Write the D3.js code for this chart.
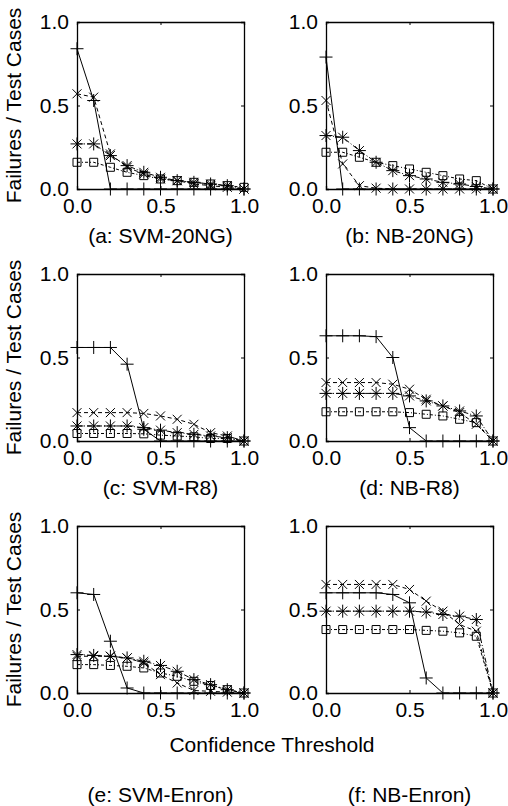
<!DOCTYPE html>
<html>
<head>
<meta charset="utf-8">
<title>Failures / Test Cases</title>
<script src="https://d3js.org/d3.v7.min.js"></script>
<style>
  body { margin: 0; background: #fff; }
  text { font-family: 'Liberation Sans', Arial, sans-serif; font-size: 21px; fill: #000; }
</style>
</head>
<body>
<div id="chart"></div>
<script>
/* global d3 */

const thresholds = [0, 0.1, 0.2, 0.3, 0.4, 0.5, 0.6, 0.7, 0.8, 0.9, 1.0];
const axisTicks = [0, 0.5, 1.0];

// (a) SVM-20NG
const svm20ngPlus  = [0.84, 0.53, 0, 0, 0, 0, 0, 0, 0, 0, 0];
const svm20ngCross = [0.57, 0.55, 0.21, 0.13, 0.09, 0.06, 0.05, 0.03, 0.02, 0.01, 0];
const svm20ngStar  = [0.27, 0.27, 0.2, 0.14, 0.1, 0.07, 0.05, 0.04, 0.03, 0.02, 0];
const svm20ngBox   = [0.16, 0.16, 0.13, 0.1, 0.08, 0.06, 0.05, 0.04, 0.03, 0.02, 0.01];
// (b) NB-20NG
const nb20ngPlus  = [0.79, 0, 0, 0, 0, 0, 0, 0, 0, 0, 0];
const nb20ngCross = [0.53, 0.15, 0.02, 0.005, 0, 0, 0, 0, 0, 0, 0];
const nb20ngStar  = [0.32, 0.31, 0.23, 0.16, 0.11, 0.08, 0.06, 0.04, 0.03, 0.015, 0];
const nb20ngBox   = [0.22, 0.22, 0.19, 0.16, 0.14, 0.12, 0.1, 0.08, 0.06, 0.05, 0];
// (c) SVM-R8
const svmR8Plus  = [0.56, 0.56, 0.56, 0.46, 0.07, 0, 0, 0, 0, 0, 0];
const svmR8Cross = [0.17, 0.17, 0.17, 0.17, 0.165, 0.15, 0.13, 0.1, 0.05, 0.03, 0];
const svmR8Star  = [0.09, 0.09, 0.09, 0.09, 0.08, 0.065, 0.05, 0.04, 0.03, 0.02, 0];
const svmR8Box   = [0.045, 0.045, 0.045, 0.045, 0.043, 0.035, 0.03, 0.025, 0.015, 0.015, 0];
// (d) NB-R8
const nbR8Plus  = [0.63, 0.63, 0.63, 0.625, 0.5, 0.08, 0, 0, 0, 0, 0];
const nbR8Cross = [0.35, 0.35, 0.35, 0.35, 0.34, 0.31, 0.25, 0.21, 0.17, 0.1, 0];
const nbR8Star  = [0.285, 0.285, 0.285, 0.285, 0.285, 0.27, 0.24, 0.21, 0.18, 0.15, 0];
const nbR8Box   = [0.175, 0.175, 0.175, 0.175, 0.175, 0.17, 0.16, 0.15, 0.13, 0.11, 0];
// (e) SVM-Enron
const svmEnronPlus  = [0.6, 0.59, 0.31, 0.03, 0, 0, 0, 0, 0, 0, 0];
const svmEnronCross = [0.22, 0.22, 0.22, 0.21, 0.18, 0.11, 0.06, 0.015, 0.01, 0.005, 0];
const svmEnronStar  = [0.23, 0.225, 0.22, 0.21, 0.19, 0.165, 0.13, 0.08, 0.05, 0.02, 0];
const svmEnronBox   = [0.17, 0.17, 0.165, 0.16, 0.15, 0.12, 0.1, 0.07, 0.045, 0.02, 0];
// (f) NB-Enron
const nbEnronPlus  = [0.6, 0.6, 0.6, 0.6, 0.59, 0.54, 0.09, 0, 0, 0, 0];
const nbEnronCross = [0.65, 0.65, 0.65, 0.65, 0.65, 0.62, 0.55, 0.49, 0.41, 0.37, 0];
const nbEnronStar  = [0.49, 0.49, 0.49, 0.49, 0.49, 0.49, 0.485, 0.47, 0.46, 0.44, 0];
const nbEnronBox   = [0.38, 0.38, 0.38, 0.38, 0.38, 0.38, 0.375, 0.37, 0.36, 0.34, 0];

const captions = ['(a: SVM-20NG)', '(b: NB-20NG)', '(c: SVM-R8)', '(d: NB-R8)', '(e: SVM-Enron)', '(f: NB-Enron)'];
const yTitle = 'Failures / Test Cases';
const xTitle = 'Confidence Threshold';

const panels = [
  [svm20ngPlus, svm20ngCross, svm20ngStar, svm20ngBox],
  [nb20ngPlus, nb20ngCross, nb20ngStar, nb20ngBox],
  [svmR8Plus, svmR8Cross, svmR8Star, svmR8Box],
  [nbR8Plus, nbR8Cross, nbR8Star, nbR8Box],
  [svmEnronPlus, svmEnronCross, svmEnronStar, svmEnronBox],
  [nbEnronPlus, nbEnronCross, nbEnronStar, nbEnronBox]
];

// line style + marker per series (gnuplot-ish)
const styles = [
  { dash: null,      mark: 'plus' },
  { dash: '4,3',     mark: 'cross' },
  { dash: '5,2,1,2', mark: 'star' },
  { dash: '3,2,1,2', mark: 'box' }
];

const W = 508, H = 806;
const plotW = 167, plotH = 167;
const colX = [77, 326];
const rowY = [22, 274, 526];

const svg = d3.select('#chart')
  .append('svg')
    .attr('width', W)
    .attr('height', H);

const fmt = d3.format('.1f');

function markPath (kind, x, y) {
  const p = 6.5, c = 4.5, s = 4;
  const plus = `M${x - p},${y}H${x + p}M${x},${y - p}V${y + p}`;
  const cross = `M${x - c},${y - c}L${x + c},${y + c}M${x - c},${y + c}L${x + c},${y - c}`;
  if (kind === 'plus') return plus;
  if (kind === 'cross') return cross;
  if (kind === 'star') return plus + cross;
  return `M${x - s},${y - s}h${2 * s}v${2 * s}h${-2 * s}Z`;
}

panels.forEach((series, i) => {
  const col = i % 2, row = Math.floor(i / 2);
  const g = svg.append('g')
    .attr('transform', `translate(${colX[col]}, ${rowY[row]})`);

  const x = d3.scaleLinear().domain([0, 1]).range([0, plotW]);
  const y = d3.scaleLinear().domain([0, 1]).range([plotH, 0]);

  // inward ticks on all four sides
  g.append('g').attr('transform', `translate(0, ${plotH})`)
    .call(d3.axisBottom(x).tickValues(axisTicks).tickSize(-3).tickPadding(9).tickFormat(fmt));
  g.append('g')
    .call(d3.axisLeft(y).tickValues(axisTicks).tickSize(-3).tickPadding(8).tickFormat(fmt));
  g.append('g')
    .call(d3.axisTop(x).tickValues(axisTicks).tickSize(-3).tickFormat(''));
  g.append('g').attr('transform', `translate(${plotW}, 0)`)
    .call(d3.axisRight(y).tickValues(axisTicks).tickSize(-3).tickFormat(''));

  g.selectAll('.domain').attr('stroke', '#000').attr('stroke-width', 1.3);
  g.selectAll('.tick line').attr('stroke', '#000');
  g.selectAll('.tick text')
    .attr('fill', '#000')
    .style('font-family', "'Liberation Sans', Arial, sans-serif")
    .style('font-size', '21px');

  const line = d3.line()
    .x((d, k) => x(thresholds[k]))
    .y(d => y(d));

  series.forEach((vals, s) => {
    g.append('path')
      .datum(vals)
      .attr('d', line)
      .attr('fill', 'none')
      .attr('stroke', '#000')
      .attr('stroke-width', 1)
      .attr('stroke-dasharray', styles[s].dash);

    g.append('g')
      .selectAll('path')
      .data(vals)
      .enter()
      .append('path')
      .attr('d', (d, k) => markPath(styles[s].mark, x(thresholds[k]), y(d)))
      .attr('fill', 'none')
      .attr('stroke', '#000')
      .attr('stroke-width', 1);
  });

  // caption under each panel
  const capY = row === 2 ? plotH + 109 : plotH + 54;
  g.append('text')
    .attr('x', plotW / 2)
    .attr('y', capY)
    .attr('text-anchor', 'middle')
    .text(captions[i]);

  if (col === 0) {
    svg.append('text')
      .attr('transform', `translate(${21}, ${rowY[row] + plotH / 2}) rotate(-90)`)
      .attr('text-anchor', 'middle')
      .text(yTitle);
  }
});

svg.append('text')
  .attr('x', 272)
  .attr('y', rowY[2] + plotH + 59)
  .attr('text-anchor', 'middle')
  .text(xTitle);
</script>
</body>
</html>
